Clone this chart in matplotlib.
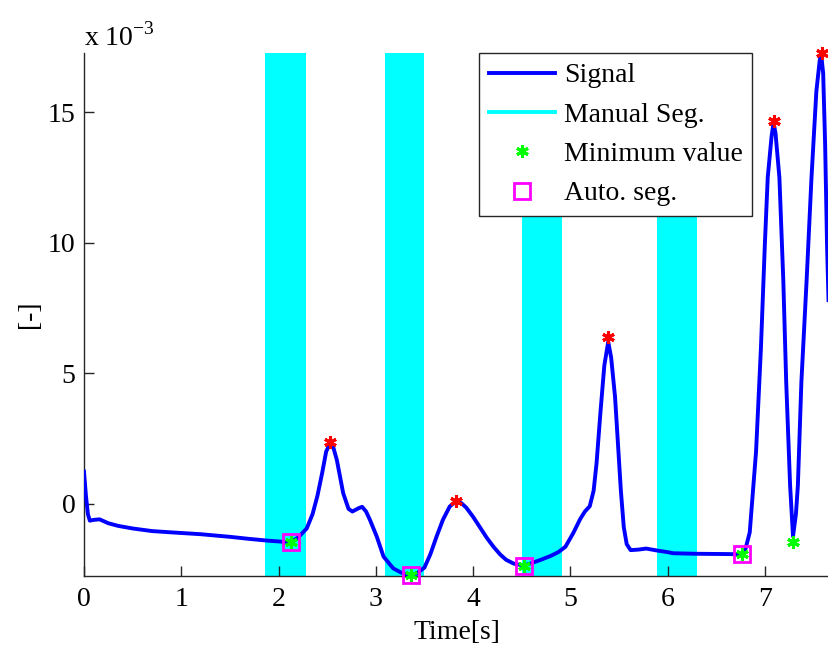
import numpy as np
import matplotlib.pyplot as plt

plt.rcParams['font.family'] = ['Liberation Serif', 'DejaVu Serif']
plt.rcParams['mathtext.fontset'] = 'custom'
plt.rcParams['mathtext.rm'] = 'Liberation Serif'

# signal (time in s, value in 1e-3)
t = [0.00, 0.02, 0.04, 0.06, 0.10, 0.16, 0.25, 0.35, 0.50, 0.70, 0.90, 1.20, 1.50, 1.70,
     1.90, 2.05, 2.13, 2.20, 2.29, 2.35, 2.40, 2.45, 2.49, 2.53, 2.56, 2.60, 2.665, 2.72,
     2.76, 2.82, 2.86, 2.90, 2.94, 3.01, 3.08, 3.18, 3.25, 3.30, 3.36, 3.42, 3.50, 3.56,
     3.625, 3.69, 3.76, 3.82, 3.88, 3.93, 4.00, 4.07, 4.14, 4.21, 4.28, 4.34, 4.42, 4.52,
     4.60, 4.69, 4.80, 4.88, 4.95, 5.03, 5.10, 5.15, 5.20, 5.24, 5.27, 5.31, 5.35, 5.39,
     5.42, 5.46, 5.49, 5.52, 5.55, 5.58, 5.62, 5.70, 5.78, 5.90, 5.99, 6.06, 6.30, 6.60,
     6.765, 6.80, 6.845, 6.91, 6.96, 7.00, 7.03, 7.07, 7.09, 7.11, 7.15, 7.19, 7.22, 7.26,
     7.29, 7.32, 7.34, 7.376, 7.43, 7.48, 7.53, 7.565, 7.58, 7.60, 7.62, 7.64, 7.655]
sig = [1.23, 0.30, -0.40, -0.65, -0.62, -0.60, -0.75, -0.85, -0.95, -1.05, -1.10, -1.17, -1.27, -1.35,
       -1.42, -1.46, -1.46, -1.30, -0.95, -0.40, 0.30, 1.20, 2.00, 2.30, 2.20, 1.67, 0.40, -0.20,
       -0.30, -0.18, -0.12, -0.30, -0.62, -1.26, -2.03, -2.48, -2.62, -2.70, -2.73, -2.68, -2.45, -1.95,
       -1.26, -0.62, -0.11, 0.08, 0.02, -0.15, -0.50, -0.90, -1.30, -1.65, -1.95, -2.15, -2.30, -2.37,
       -2.28, -2.16, -2.00, -1.85, -1.65, -1.13, -0.60, -0.30, -0.10, 0.50, 1.55, 3.50, 5.30, 6.20,
       5.60, 4.10, 2.30, 0.50, -0.90, -1.55, -1.78, -1.76, -1.72, -1.80, -1.85, -1.90, -1.92, -1.93,
       -1.94, -1.75, -1.10, 2.00, 5.96, 9.90, 12.50, 14.10, 14.60, 14.20, 12.50, 8.57, 4.66, 0.70,
       -1.25, -0.40, 0.70, 4.66, 8.57, 12.50, 15.80, 17.00, 17.20, 16.50, 13.80, 9.90, 7.80]

# manual segmentation bands
seg_start = [1.865, 3.09, 4.505, 5.895]
seg_end = [2.28, 3.50, 4.915, 6.305]

# detected peaks
peak_t = [2.53, 3.82, 5.39, 7.09, 7.59]
peak_v = [2.38, 0.11, 6.37, 14.65, 17.26]

# minimum values
min_t = [2.13, 3.36, 4.52, 6.765, 7.29]
min_v = [-1.46, -2.73, -2.37, -1.94, -1.45]

# automatic segmentation
auto_t = [2.13, 3.36, 4.52, 6.765]
auto_v = [-1.46, -2.73, -2.37, -1.94]

ast = (6, 2, 0)  # asterisk like matlab '*'

fig = plt.figure(figsize=(8.29, 6.5), dpi=100)
ax = fig.add_axes([84/829, 74.3/650, 745/829, 522.4/650])

for i in range(len(seg_start)):
    ax.axvspan(seg_start[i], seg_end[i], color='#00ffff', lw=0, zorder=1)

ax.plot(t, sig, color='#0000ff', lw=2.8, zorder=3, label='Signal')
ax.plot([], [], color='#00ffff', lw=2.8, label='Manual Seg.')
ax.plot(peak_t, peak_v, ls='none', marker=ast, mec='red', mew=2.2, ms=9, zorder=4,
        clip_on=False)
ax.plot(min_t, min_v, ls='none', marker=ast, mec='#00ff00', mew=2.2, ms=9, zorder=4,
        clip_on=False, label='Minimum value')
ax.plot(auto_t, auto_v, 's', mfc='none', mec='#ff00ff', mew=2, ms=11, zorder=5,
        clip_on=False, label='Auto. seg.')

ax.set_xlim(0, 7.66)
ax.set_ylim(-2.76, 17.26)
ax.set_xticks(range(0, 8))
ax.set_yticks([0, 5, 10, 15])

for s in ['top', 'right']:
    ax.spines[s].set_visible(False)
for s in ['left', 'bottom']:
    ax.spines[s].set_color('#262626')
    ax.spines[s].set_linewidth(1.0)
ax.tick_params(direction='in', length=7, width=1, color='#262626', labelsize=20)
ax.tick_params(axis='x', pad=8)
ax.tick_params(axis='y', pad=6)

ax.set_xlabel('Time[s]', fontsize=20, labelpad=6)
ax.set_ylabel('[-]', fontsize=20, labelpad=4)

fig.text(84/829, 1 - 46/650, r'x 10$^{\mathrm{-3}}$', fontsize=20, ha='left', va='baseline')

leg = ax.legend(loc='upper right', bbox_to_anchor=(0.897, 1.0), borderaxespad=0, fontsize=20,
                frameon=True, fancybox=False, edgecolor='#262626', framealpha=1,
                handlelength=2.4, handletextpad=0.3, labelspacing=0.5, borderpad=0.35)
leg.get_frame().set_linewidth(1.0)

fig.savefig('out.png', dpi=100)
